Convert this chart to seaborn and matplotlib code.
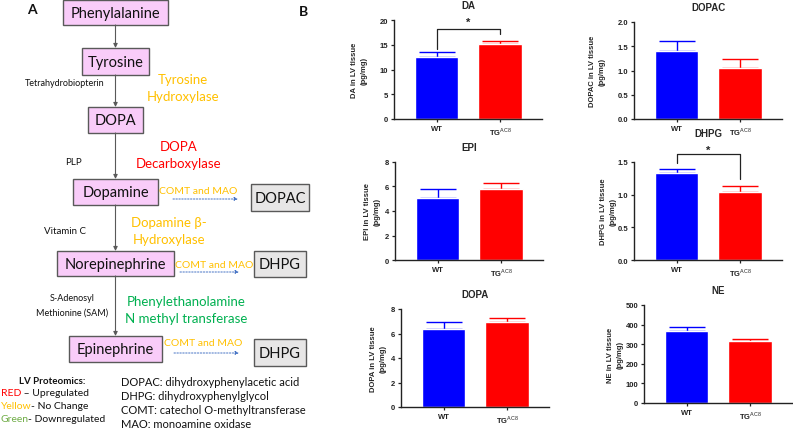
import matplotlib
matplotlib.use("Agg")
import matplotlib.pyplot as plt
from matplotlib.patches import Rectangle
import seaborn as sns

# bar data (mean, SEM)
groups = ["WT", "TG$^{\\mathrm{AC8}}$"]
bar_colors = ["#0000FF", "#FF0000"]

da_mean = [12.6, 15.15]
da_sem = [0.9, 0.65]
dopac_mean = [1.40, 1.05]
dopac_sem = [0.20, 0.19]
epi_mean = [5.06, 5.82]
epi_sem = [0.71, 0.47]
dhpg_mean = [1.33, 1.04]
dhpg_sem = [0.06, 0.10]
dopa_mean = [6.34, 6.91]
dopa_sem = [0.62, 0.33]
ne_mean = [365, 316]
ne_sem = [23, 12]

W, H = 793, 431

sns.set_style("ticks")
plt.rcParams["font.family"] = ["Liberation Sans", "DejaVu Sans"]
plt.rcParams["mathtext.fontset"] = "custom"
plt.rcParams["mathtext.rm"] = "Liberation Sans"

fig = plt.figure(figsize=(W / 100, H / 100), dpi=100)


def px_rect(left, top, right, bottom):
    return [left / W, 1 - bottom / H, (right - left) / W, (bottom - top) / H]


# ---------------- panel A : pathway diagram ----------------
dg = fig.add_axes([0, 0, 1, 1])
dg.set_xlim(0, W)
dg.set_ylim(H, 0)
dg.axis("off")

DFONT = ["Lato", "DejaVu Sans"]
YEL = "#FFC000"
RED = "#FF0000"
GRN = "#00B050"


def box(l, t, r, b, label, fc, size=10.5):
    dg.add_patch(Rectangle((l, t), r - l, b - t, facecolor=fc, edgecolor="#595959", lw=1.0))
    dg.text((l + r) / 2, (t + b) / 2 + 0.5, label, ha="center", va="center",
            fontsize=size, family=DFONT, color="#111111")


def txt(x, y, s, color="#111111", size=7, ha="center", weight="normal"):
    return dg.text(x, y, s, ha=ha, va="center", fontsize=size, family=DFONT,
                   color=color, fontweight=weight)


PINK = "#F9CCF9"
GRAY = "#E7E6E6"
box(63, 1, 168, 26, "Phenylalanine", PINK)
box(82, 49, 149, 76, "Tyrosine", PINK)
box(88, 108, 143, 134, "DOPA", PINK)
box(73, 180, 158, 206, "Dopamine", PINK)
box(57, 252, 174, 277, "Norepinephrine", PINK)
box(69, 337, 162, 363, "Epinephrine", PINK)
box(251, 185, 309, 212, "DOPAC", GRAY)
box(254, 252, 306, 278, "DHPG", GRAY)
box(254, 340, 306, 367, "DHPG", GRAY)

for y0, y1 in [(26, 49), (76, 108), (134, 180), (206, 252), (277, 337)]:
    dg.annotate("", xy=(115.5, y1), xytext=(115.5, y0),
                arrowprops=dict(arrowstyle="-|>", color="#595959", lw=0.8,
                                mutation_scale=6, shrinkA=0, shrinkB=0))

for x0, x1, y in [(173, 238, 200), (180, 239, 273), (174, 239, 354)]:
    dg.annotate("", xy=(x1, y), xytext=(x0, y),
                arrowprops=dict(arrowstyle="-|>", color="#4472C4", lw=0.7, ls=(0, (1.5, 1.5)),
                                mutation_scale=5, shrinkA=0, shrinkB=0))

txt(32, 10, "A", size=10, weight="bold")
txt(303, 12, "B", size=10, weight="bold")

txt(65, 83, "Tetrahydrobiopterin", size=6.5)
txt(183, 80, "Tyrosine", YEL, 9.5)
txt(183, 97, "Hydroxylase", YEL, 9.5)
txt(179, 147, "DOPA", RED, 9.5)
txt(179, 164, "Decarboxylase", RED, 9.5)
txt(73, 163, "PLP", size=7)
txt(198, 192, "COMT and MAO", YEL, 7.5)
txt(169, 223, "Dopamine β-", YEL, 9.5)
txt(169, 240, "Hydroxylase", YEL, 9.5)
txt(65, 232, "Vitamin C", size=7)
txt(214, 266, "COMT and MAO", YEL, 7.5)
txt(72, 299, "S-Adenosyl", size=6.5)
txt(72, 313, "Methionine (SAM)", size=6.5)
txt(186, 302, "Phenylethanolamine", GRN, 9.5)
txt(186, 319, "N methyl transferase", GRN, 9.5)
txt(203, 344, "COMT and MAO", YEL, 7.5)

txt(52, 382, "LV Proteomics:", size=7, weight="bold")
renderer = fig.canvas.get_renderer()
inv = dg.transData.inverted()
for y, word, col, rest in [(394, "RED", RED, " – Upregulated"),
                           (407, "Yellow", YEL, "- No Change"),
                           (420, "Green", "#70AD47", "- Downregulated")]:
    t = txt(0.5, y, word, col, 7.5, ha="left")
    bb = t.get_window_extent(renderer)
    xr = inv.transform((bb.x1, bb.y0))[0]
    txt(xr, y, rest, size=7.5, ha="left")

txt(121, 383, "DOPAC: dihydroxyphenylacetic acid", size=8, ha="left")
txt(121, 397, "DHPG: dihydroxyphenylglycol", size=8, ha="left")
txt(121, 411, "COMT: catechol O-methyltransferase", size=8, ha="left")
txt(121, 425, "MAO: monoamine oxidase", size=8, ha="left")


# ---------------- panel B : bar charts ----------------
def bar_panel(pos, title, means, sems, ymax, step, ylab, lab_x, tick_fmt, title_pad=8.5):
    ax = fig.add_axes(pos)
    sns.barplot(x=groups, y=means, hue=groups, palette=bar_colors, legend=False,
                width=0.68, saturation=1, errorbar=None, ax=ax, zorder=2)
    for i in range(2):
        ax.errorbar(i, means[i], yerr=[[0], [sems[i]]], fmt="none", ecolor=bar_colors[i],
                    elinewidth=1.0, capsize=13, capthick=1.0, zorder=1)
    ax.set_xlim(-0.67, 1.66)
    ax.set_ylim(0, ymax)
    ticks = [k * step for k in range(int(round(ymax / step)) + 1)]
    ax.set_yticks(ticks)
    ax.set_yticklabels([tick_fmt.format(v) for v in ticks])
    for s in ["top", "right"]:
        ax.spines[s].set_visible(False)
    for s in ["left", "bottom"]:
        ax.spines[s].set_linewidth(1.0)
        ax.spines[s].set_color("#222222")
    ax.tick_params(axis="both", length=2.5, width=0.9, pad=1.5, labelsize=5.5, colors="#222222")
    for lab in ax.get_xticklabels() + ax.get_yticklabels():
        lab.set_fontweight("bold")
    ax.set_xlabel("")
    ax.set_ylabel(ylab + " in LV tissue\n(pg/mg)", fontsize=5.5, fontweight="bold", linespacing=1.5)
    ax.yaxis.set_label_coords(lab_x, 0.5)
    ax.set_title(title, fontsize=7, fontweight="bold", pad=title_pad)
    return ax


def sig_bracket(ax, y, left_from, right_from, star_y):
    ax.plot([0, 0, 1, 1], [left_from, y, y, right_from], color="#222222", lw=0.9,
            clip_on=False, zorder=3)
    ax.text(0.5, star_y, "*", ha="center", va="center", fontsize=8, fontweight="bold",
            clip_on=False)


ax = bar_panel(px_rect(394, 21, 542, 120), "DA", da_mean, da_sem, 20, 5, "DA", -0.18, "{:.0f}")
sig_bracket(ax, 18.2, 14.1, 17.2, 19.6)

bar_panel(px_rect(634, 23, 782, 120), "DOPAC", dopac_mean, dopac_sem, 2.0, 0.5, "DOPAC", -0.19, "{:.1f}")
bar_panel(px_rect(395, 163, 543, 261), "EPI", epi_mean, epi_sem, 8, 2, "EPI", -0.095, "{:.0f}")

ax = bar_panel(px_rect(634, 163, 782, 261), "DHPG", dhpg_mean, dhpg_sem, 1.5, 0.5, "DHPG", -0.12,
               "{:.1f}", title_pad=19)
sig_bracket(ax, 1.63, 1.48, 1.245, 1.69)

bar_panel(px_rect(401, 310, 549, 408), "DOPA", dopa_mean, dopa_sem, 8, 2, "DOPA", -0.10, "{:.0f}")
bar_panel(px_rect(644, 306, 792, 404), "NE", ne_mean, ne_sem, 500, 100, "NE", -0.14, "{:.0f}")

fig.savefig("out.png", dpi=100)
